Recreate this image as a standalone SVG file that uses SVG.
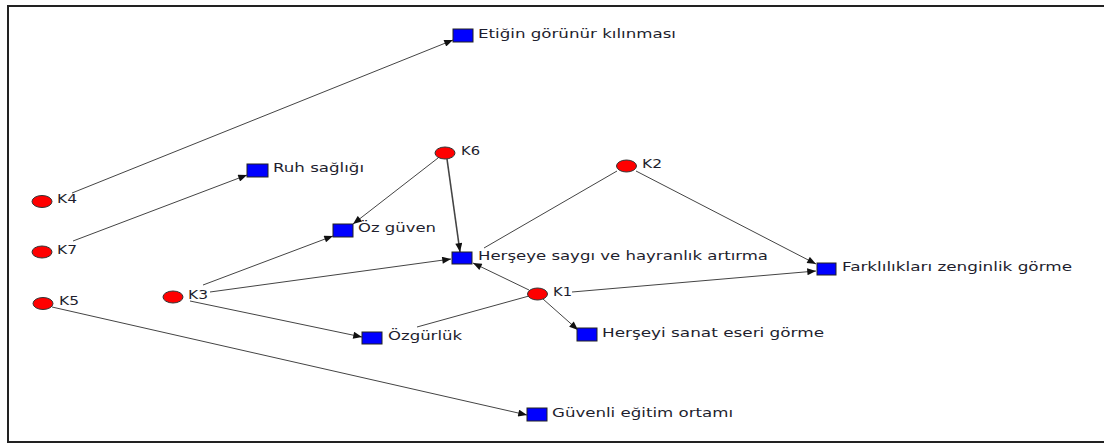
<svg xmlns="http://www.w3.org/2000/svg" width="1104" height="445" viewBox="0 0 1104 445">
<defs>
<marker id="arr" viewBox="0 0 10 8" refX="10" refY="4" markerWidth="10" markerHeight="7" orient="auto" markerUnits="userSpaceOnUse">
<path d="M0,0 L10,4 L0,8 z" fill="#111"/>
</marker>
<style>
.bg{fill:#fff}
.frame{stroke:#222;stroke-width:2;fill:none}
.e{stroke:#444;stroke-width:1;fill:none}
.a{marker-end:url(#arr)}
.k{fill:#ff0000;stroke:#333;stroke-width:1}
.s{fill:#0000ff;stroke:#222;stroke-width:1}
.t{font-family:"DejaVu Sans","Verdana",sans-serif;font-size:13px;fill:#1e1e2e}
</style>
</defs>
<rect class="bg" x="0" y="0" width="1104" height="445"/>
<path class="frame" d="M1104,6 H8 V442 H1104"/>
<g id="connectors">
<line class="e a" x1="72" y1="193" x2="453" y2="40"/>
<line class="e a" x1="73" y1="241" x2="247" y2="175"/>
<line class="e a" x1="438" y1="158" x2="353" y2="224"/>
<line class="e a" x1="447" y1="159" x2="460" y2="252" style="stroke-width:1.6"/>
<line class="e a" x1="203" y1="285" x2="333" y2="236"/>
<line class="e a" x1="210" y1="292" x2="451" y2="259"/>
<line class="e a" x1="190" y1="301" x2="362" y2="337"/>
<line class="e a" x1="529" y1="290" x2="473" y2="263"/>
<line class="e" x1="529" y1="296" x2="417" y2="327"/>
<line class="e" x1="617" y1="171" x2="484" y2="248"/>
<line class="e a" x1="636" y1="171" x2="816" y2="264"/>
<line class="e a" x1="572" y1="292" x2="816" y2="271"/>
<line class="e a" x1="543" y1="299" x2="578" y2="330"/>
<line class="e a" x1="52" y1="307" x2="527" y2="415"/>
</g>
<g id="n-etigin"><rect class="s" x="453" y="29" width="20" height="13"/><text class="t" x="478" y="37.5" textLength="198" lengthAdjust="spacingAndGlyphs">Etiğin görünür kılınması</text></g>
<g id="n-ruh"><rect class="s" x="247" y="164" width="21" height="13"/><text class="t" x="273" y="172" textLength="91" lengthAdjust="spacingAndGlyphs">Ruh sağlığı</text></g>
<g id="n-ozguven"><rect class="s" x="333" y="224" width="20" height="13"/><text class="t" x="358" y="232" textLength="78" lengthAdjust="spacingAndGlyphs">Öz güven</text></g>
<g id="n-herseye"><rect class="s" x="452" y="252" width="20" height="12"/><text class="t" x="478" y="259.5" textLength="290" lengthAdjust="spacingAndGlyphs">Herşeye saygı ve hayranlık artırma</text></g>
<g id="n-ozgurluk"><rect class="s" x="362" y="332" width="20" height="12"/><text class="t" x="388" y="340" textLength="74" lengthAdjust="spacingAndGlyphs">Özgürlük</text></g>
<g id="n-farklilik"><rect class="s" x="817" y="263" width="19" height="12"/><text class="t" x="842" y="271" textLength="230" lengthAdjust="spacingAndGlyphs">Farklılıkları zenginlik görme</text></g>
<g id="n-sanat"><rect class="s" x="577" y="328" width="20" height="13"/><text class="t" x="602" y="337" textLength="222" lengthAdjust="spacingAndGlyphs">Herşeyi sanat eseri görme</text></g>
<g id="n-guvenli"><rect class="s" x="527" y="408" width="20" height="13"/><text class="t" x="552" y="416.5" textLength="181" lengthAdjust="spacingAndGlyphs">Güvenli eğitim ortamı</text></g>
<g id="n-k6"><ellipse class="k" cx="445" cy="153" rx="10" ry="6"/><text class="t" x="461" y="155" textLength="19" lengthAdjust="spacingAndGlyphs">K6</text></g>
<g id="n-k4"><ellipse class="k" cx="42" cy="201.5" rx="10" ry="6"/><text class="t" x="57" y="203" textLength="20" lengthAdjust="spacingAndGlyphs">K4</text></g>
<g id="n-k7"><ellipse class="k" cx="42" cy="252" rx="10" ry="6"/><text class="t" x="57" y="254" textLength="20" lengthAdjust="spacingAndGlyphs">K7</text></g>
<g id="n-k5"><ellipse class="k" cx="43" cy="303.5" rx="10" ry="6"/><text class="t" x="59" y="305" textLength="20" lengthAdjust="spacingAndGlyphs">K5</text></g>
<g id="n-k3"><ellipse class="k" cx="173" cy="297" rx="10" ry="6"/><text class="t" x="188" y="299" textLength="20" lengthAdjust="spacingAndGlyphs">K3</text></g>
<g id="n-k1"><ellipse class="k" cx="537.5" cy="294" rx="10" ry="6"/><text class="t" x="553" y="296" textLength="19" lengthAdjust="spacingAndGlyphs">K1</text></g>
<g id="n-k2"><ellipse class="k" cx="626.5" cy="166" rx="10" ry="6"/><text class="t" x="642" y="168" textLength="20" lengthAdjust="spacingAndGlyphs">K2</text></g>
</svg>
